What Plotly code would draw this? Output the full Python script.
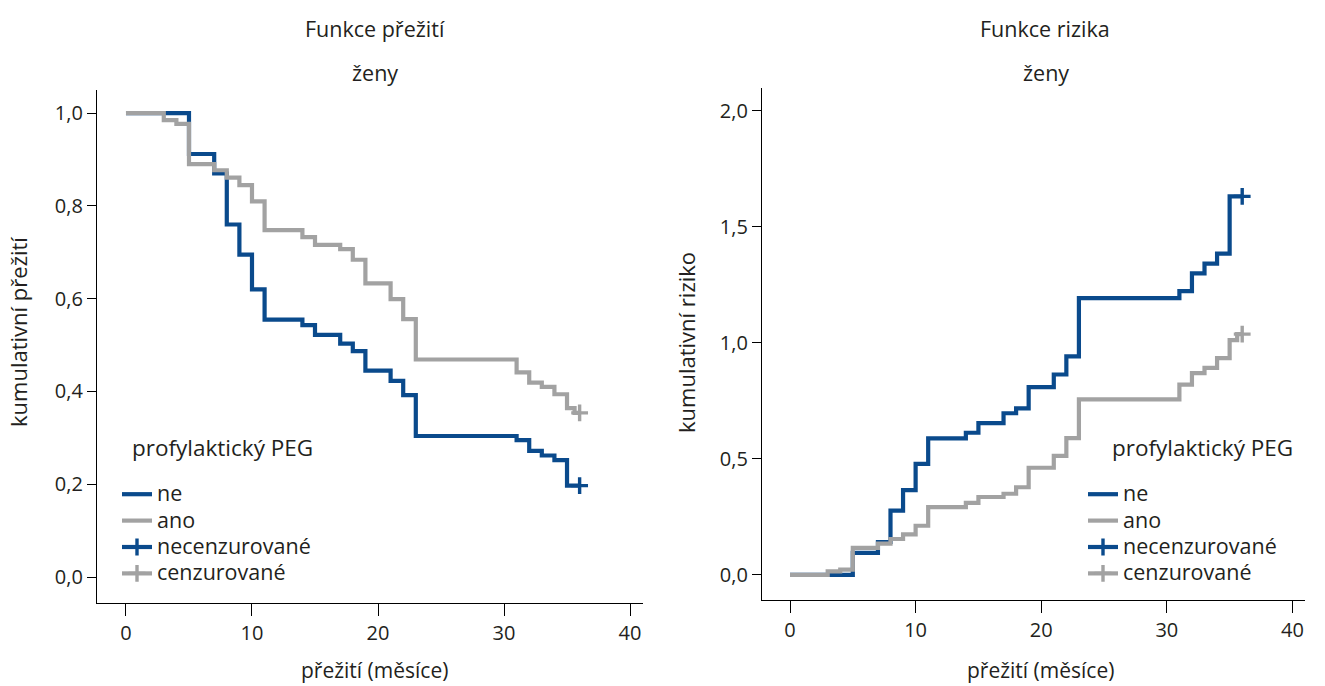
import plotly.graph_objects as go

# ---------------- data ----------------
# Survival function (left panel)
t_ne = [0, 5, 7, 8, 9, 10, 11, 14, 15, 17, 18, 19, 21, 22, 23, 31, 32, 33, 34, 35, 36]
s_ne = [1.0, 0.912, 0.87, 0.76, 0.695, 0.62, 0.555, 0.543, 0.522, 0.503, 0.487, 0.445,
        0.423, 0.392, 0.304, 0.295, 0.272, 0.262, 0.252, 0.197, 0.197]

t_ano = [0, 3, 4, 5, 7, 8, 9, 10, 11, 14, 15, 17, 18, 19, 21, 22, 23, 31, 32, 33, 34, 35, 35.6, 36]
s_ano = [1.0, 0.985, 0.977, 0.89, 0.877, 0.861, 0.845, 0.81, 0.748, 0.733, 0.716, 0.707,
         0.684, 0.633, 0.599, 0.556, 0.469, 0.441, 0.419, 0.41, 0.394, 0.364, 0.354, 0.354]

# Cumulative hazard (right panel)
h_ne = [0.0, 0.095, 0.142, 0.277, 0.366, 0.479, 0.589, 0.613, 0.654, 0.697, 0.718, 0.81,
        0.864, 0.942, 1.193, 1.223, 1.30, 1.342, 1.385, 1.632, 1.632]
h_ano = [0.0, 0.015, 0.023, 0.117, 0.135, 0.155, 0.175, 0.212, 0.292, 0.311, 0.336, 0.35,
         0.378, 0.462, 0.513, 0.59, 0.757, 0.82, 0.87, 0.893, 0.935, 1.012, 1.038, 1.038]

# censored observations (end of follow-up)
cens_t_ne = [36]
cens_s_ne = [0.197]
cens_h_ne = [1.632]
cens_t_ano = [36]
cens_s_ano = [0.354]
cens_h_ano = [1.038]

x_ticks = [0, 10, 20, 30, 40]
x_ticklabels = ["0", "10", "20", "30", "40"]
y1_ticks = [0.0, 0.2, 0.4, 0.6, 0.8, 1.0]
y1_ticklabels = ["0,0", "0,2", "0,4", "0,6", "0,8", "1,0"]
y2_ticks = [0.0, 0.5, 1.0, 1.5, 2.0]
y2_ticklabels = ["0,0", "0,5", "1,0", "1,5", "2,0"]

names = ["ne", "ano", "necenzurované", "cenzurované"]

# ---------------- style ----------------
BLUE = "#0a4a8c"
GREY = "#a2a2a2"
FONT = "Open Sans"
TXT = "#231f20"
W, H = 1325, 686
LEG_TXT = 21.5


def px_x(p):
    return p / W


def px_y(p):
    return 1 - p / H


def leg_name(n):
    return '<span style="font-size:%spx">%s</span>' % (LEG_TXT, n)


fig = go.Figure()

for xa, ya, lg, yne, yano, cne, cano in [
    ("x", "y", "legend", s_ne, s_ano, cens_s_ne, cens_s_ano),
    ("x2", "y2", "legend2", h_ne, h_ano, cens_h_ne, cens_h_ano),
]:
    fig.add_trace(go.Scatter(x=t_ne, y=yne, mode="lines", line=dict(color=BLUE, width=4.2, shape="hv"),
                             name=leg_name(names[0]), xaxis=xa, yaxis=ya, legend=lg))
    fig.add_trace(go.Scatter(x=t_ano, y=yano, mode="lines", line=dict(color=GREY, width=4.2, shape="hv"),
                             name=leg_name(names[1]), xaxis=xa, yaxis=ya, legend=lg))
    fig.add_trace(go.Scatter(x=cens_t_ne, y=cne, mode="lines+markers", line=dict(color=BLUE, width=4.2),
                             marker=dict(symbol="cross-thin", size=12, line=dict(color=BLUE, width=3.4)),
                             name=leg_name(names[2]), xaxis=xa, yaxis=ya, legend=lg))
    fig.add_trace(go.Scatter(x=cens_t_ano, y=cano, mode="lines+markers", line=dict(color=GREY, width=4.2),
                             marker=dict(symbol="cross-thin", size=12, line=dict(color=GREY, width=3.4)),
                             name=leg_name(names[3]), xaxis=xa, yaxis=ya, legend=lg))

axis_common = dict(showline=True, linecolor="black", linewidth=1.2, ticks="outside",
                   tickcolor="black", tickwidth=1.2, showgrid=False, zeroline=False,
                   tickfont=dict(family=FONT, size=20, color=TXT))

fig.update_layout(
    width=W, height=H,
    margin=dict(l=0, r=0, t=0, b=0),
    plot_bgcolor="white", paper_bgcolor="white",
    font=dict(family=FONT, size=18, color=TXT),
    xaxis=dict(domain=[px_x(97), px_x(643)], range=[-2.3, 41.03], anchor="y",
               tickvals=x_ticks, ticktext=x_ticklabels, ticklen=12, **axis_common),
    yaxis=dict(domain=[px_y(603), px_y(90)], range=[-0.056, 1.05], anchor="x",
               tickvals=y1_ticks, ticktext=y1_ticklabels, ticklen=9, **axis_common),
    xaxis2=dict(domain=[px_x(762), px_x(1305)], range=[-2.23, 41.0], anchor="y2",
                tickvals=x_ticks, ticktext=x_ticklabels, ticklen=12, **axis_common),
    yaxis2=dict(domain=[px_y(600), px_y(88)], range=[-0.108, 2.099], anchor="x2",
                tickvals=y2_ticks, ticktext=y2_ticklabels, ticklen=9, **axis_common),
    legend=dict(x=px_x(117), y=px_y(476), xanchor="left", yanchor="top",
                bgcolor="rgba(0,0,0,0)", borderwidth=0, itemwidth=30,
                font=dict(family=FONT, size=18, color=TXT), tracegroupgap=0),
    legend2=dict(x=px_x(1083), y=px_y(476), xanchor="left", yanchor="top",
                 bgcolor="rgba(0,0,0,0)", borderwidth=0, itemwidth=30,
                 font=dict(family=FONT, size=18, color=TXT), tracegroupgap=0),
    showlegend=True,
)

ann = [
    ("Funkce přežití", 375, 28, 0, 21.5),
    ("ženy", 375, 72, 0, 21.5),
    ("Funkce rizika", 1045, 28, 0, 21.5),
    ("ženy", 1046, 72, 0, 21.5),
    ("přežití (měsíce)", 374, 670, 0, 21),
    ("přežití (měsíce)", 1040, 670, 0, 21),
    ("kumulativní přežití", 18, 332, -90, 22),
    ("kumulativní riziko", 686, 343, -90, 22),
    ("profylaktický PEG", 222, 447, 0, 22.5),
    ("profylaktický PEG", 1202, 447, 0, 22.5),
]
for text, x, y, ang, fs in ann:
    fig.add_annotation(text=text, x=px_x(x), y=px_y(y), xref="paper", yref="paper",
                       xanchor="center", yanchor="middle", showarrow=False, textangle=ang,
                       font=dict(family=FONT, size=fs, color=TXT))

fig.write_html("out.html", config={"displayModeBar": False},
               post_script="document.body.style.margin='0';document.body.style.overflow='hidden';")
